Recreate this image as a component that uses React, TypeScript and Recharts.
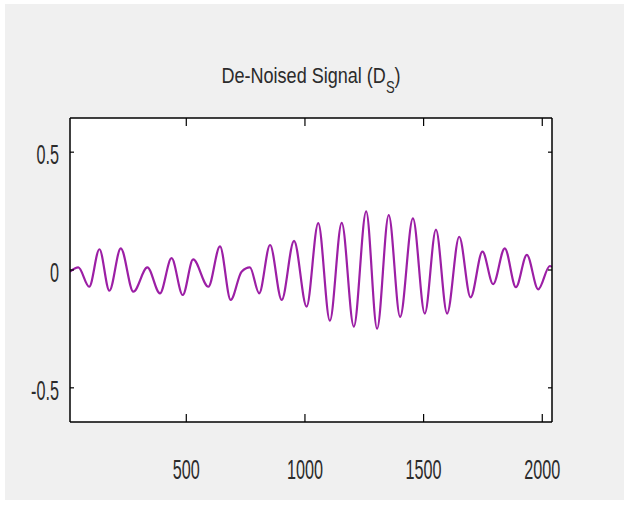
import { LineChart, Line, XAxis, YAxis } from 'recharts'

// sample index / value pairs (peaks, troughs, edges)
const sampleIdx = [
  10, 45, 91, 134, 176, 224, 277, 336, 389, 438, 485, 529, 593, 642, 687,
  733, 768, 807, 853, 902, 954, 1007, 1056, 1105, 1155, 1206, 1258, 1304,
  1353, 1401, 1455, 1505, 1552, 1599, 1650, 1698, 1748, 1793, 1842, 1889,
  1935, 1983, 2032, 2041,
]
const amplitude = [
  -0.007, 0.011, -0.071, 0.088, -0.088, 0.092, -0.092, 0.011, -0.099, 0.05,
  -0.106, 0.045, -0.071, 0.1, -0.127, -0.007, 0.011, -0.099, 0.106, -0.127,
  0.124, -0.155, 0.199, -0.215, 0.2, -0.24, 0.249, -0.249, 0.233, -0.199,
  0.219, -0.185, 0.171, -0.185, 0.141, -0.116, 0.078, -0.06, 0.092, -0.073,
  0.064, -0.082, 0.017, 0.013,
]
const xTicks = [500, 1000, 1500, 2000]
const yTicks = [-0.5, 0, 0.5]
const xDomain: [number, number] = [10, 2041]
const yDomain: [number, number] = [-0.645, 0.645]

const data = sampleIdx.map((x, i) => ({ x, y: amplitude[i] }))

const FONT = '"Liberation Sans", Arial, Helvetica, sans-serif'
const TEXT = '#2b2b2b'
const axisLine = { stroke: '#000', strokeWidth: 1.5 }
const tickLine = { stroke: '#000', strokeWidth: 1.2 }

// MATLAB-ish squeezed labels, sitting outside the box while ticks point in
function XTick(props: any) {
  const { x, payload } = props
  return (
    <text transform={`translate(${x},479) scale(0.6,1)`} textAnchor="middle"
      fontSize={27} fill={TEXT} fontFamily={FONT}>
      {payload.value}
    </text>
  )
}

function YTick(props: any) {
  const { y, payload } = props
  return (
    <text transform={`translate(59,${y + 12}) scale(0.6,1)`} textAnchor="end"
      fontSize={27} fill={TEXT} fontFamily={FONT}>
      {payload.value}
    </text>
  )
}

const noTick = () => <g />

export default function App() {
  return (
    <div style={{ position: 'absolute', left: 0, top: 0, width: 624, height: 518, background: '#fff', overflow: 'hidden' }}>
      <div style={{ position: 'absolute', left: 5, top: 4, width: 619, height: 496, background: '#f0f0f0' }} />
      <div style={{ position: 'absolute', left: 70, top: 118, width: 482, height: 304, background: '#fff' }} />
      <div style={{
        position: 'absolute', left: 0, top: 65, width: 622, textAlign: 'center',
        fontFamily: FONT, fontSize: 22, lineHeight: '22px', color: TEXT,
        transform: 'scaleX(0.82)', whiteSpace: 'nowrap',
      }}>
        De-Noised Signal (D<span style={{ fontSize: '0.72em', position: 'relative', top: '0.6em' }}>S</span>)
      </div>
      <div style={{ position: 'absolute', left: 0, top: 0 }}>
        <LineChart width={624} height={518} data={data}
          margin={{ top: 118, right: 72, bottom: 96, left: 70 }}>
          <XAxis xAxisId="b" dataKey="x" type="number" domain={xDomain} ticks={xTicks}
            allowDataOverflow orientation="bottom" mirror height={30} tickSize={8}
            axisLine={axisLine} tickLine={tickLine} tick={<XTick />} />
          <XAxis xAxisId="t" dataKey="x" type="number" domain={xDomain} ticks={xTicks}
            allowDataOverflow orientation="top" mirror height={10} tickSize={8}
            axisLine={axisLine} tickLine={tickLine} tick={noTick} />
          <YAxis yAxisId="l" type="number" domain={yDomain} ticks={yTicks}
            allowDataOverflow orientation="left" mirror width={30} tickSize={4}
            axisLine={axisLine} tickLine={tickLine} tick={<YTick />} />
          <YAxis yAxisId="r" type="number" domain={yDomain} ticks={yTicks}
            allowDataOverflow orientation="right" mirror width={10} tickSize={4}
            axisLine={axisLine} tickLine={tickLine} tick={noTick} />
          <Line xAxisId="b" yAxisId="l" dataKey="y" type="monotone" stroke="#9c1fa5"
            strokeWidth={2.2} dot={false} isAnimationActive={false} />
        </LineChart>
      </div>
    </div>
  )
}
